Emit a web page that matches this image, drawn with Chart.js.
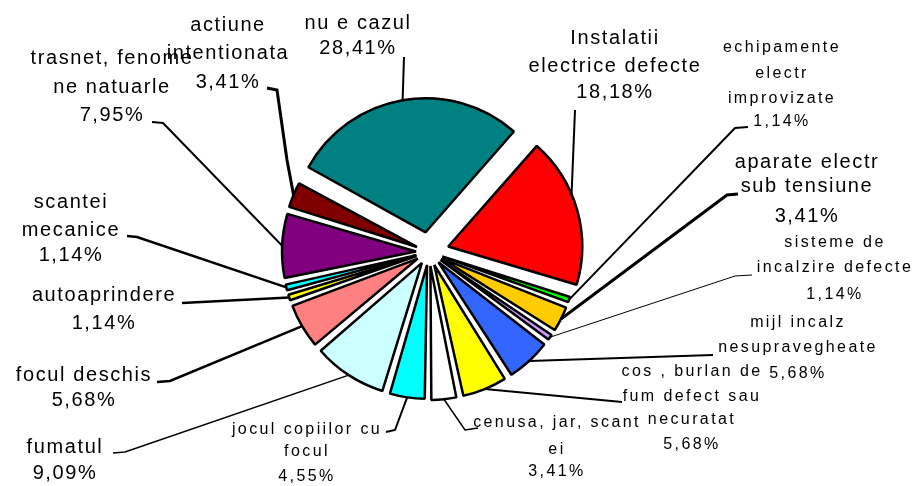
<!DOCTYPE html>
<html>
<head>
<meta charset="utf-8">
<script src="https://cdn.jsdelivr.net/npm/chart.js@4.4.1/dist/chart.umd.min.js"></script>
<style>
  body { margin: 0; background: #fff; }
  #wrap { width: 912px; height: 486px; position: relative; }
</style>
</head>
<body>
<div id="wrap"><canvas id="myChart"></canvas></div>
<script>
// categories, clockwise from the teal slice
var categories = [
  ['nu e cazul'],
  ['Instalatii', 'electrice defecte'],
  ['echipamente', 'electr', 'improvizate'],
  ['aparate electr', 'sub tensiune'],
  ['sisteme de', 'incalzire defecte'],
  ['mijl incalz', 'nesupravegheate'],
  ['cos , burlan de', 'fum defect sau', 'necuratat'],
  ['cenusa, jar, scant', 'ei'],
  ['jocul copiilor cu', 'focul'],
  ['fumatul'],
  ['focul deschis'],
  ['autoaprindere'],
  ['scantei', 'mecanice'],
  ['trasnet, fenome', 'ne natuarle'],
  ['actiune', 'intentionata']
];
var percents = [28.41, 18.18, 1.14, 3.41, 1.14, 5.68, 5.68, 3.41, 4.55, 9.09, 5.68, 1.14, 1.14, 7.95, 3.41];

var sliceColors = ['#008080', '#ff0000', '#00ff00', '#ffcc00', '#cc99ff', '#3366ff', '#ffff00',
  '#ffffff', '#00ffff', '#ccffff', '#ff8080', '#ffff00', '#00ffff', '#800080', '#800000'];
// chart.js divides offset by 4
var explode = [80, 80, 56, 56, 56, 56, 56, 56, 52, 52, 52, 52, 52, 52, 52];
var pieRadius = 134;

// where each label sits and how its leader line runs (label side points)
var labelLayout = [
  {x: 358, y: [23, 48], big: true, lw: 2, pts: [[404, 57]]},
  {x: 615, y: [38, 66, 92], big: true, lw: 2, ang: 67, pts: [[575, 110]]},
  {x: 782, y: [48, 74, 99, 122], big: false, lw: 2, pts: [[735, 128], [748, 127]]},
  {x: 807, y: [162, 186, 216], big: true, lw: 3, pts: [[727, 195], [738, 194]]},
  {x: 835, y: [243, 268, 295], big: false, lw: 1, pts: [[735, 276], [752, 275]]},
  {x: 798, y: [323, 348, 374], big: false, lw: 2, pts: [[713, 355]]},
  {x: 692, y: [372, 397, 420, 445], big: false, lw: 2, pts: [[622, 402]]},
  {x: 557, y: [423, 450, 472], big: false, lw: 1.5, pts: [[465, 430], [478, 428]]},
  {x: 307, y: [430, 452, 477], big: false, lw: 2, pts: [[395, 430], [386, 432]]},
  {x: 65, y: [447, 473], big: true, lw: 1.5, pts: [[125, 452], [113, 453]]},
  {x: 84, y: [375, 400], big: true, lw: 2.5, pts: [[170, 381], [157, 382]]},
  {x: 104, y: [295, 323], big: true, lw: 2.5, pts: [[182, 303]]},
  {x: 71, y: [202, 230, 255], big: true, lw: 2.5, pts: [[137, 237], [127, 236]]},
  {x: 112, y: [58, 87, 115], big: true, lw: 2, pts: [[163, 123], [152, 122]]},
  {x: 228, y: [25, 53, 82], big: true, lw: 3, pts: [[287, 160], [277, 90], [267, 88]]}
];

function fix(arc) {
  var circ = arc.endAngle - arc.startAngle;
  return 1 - Math.sin(Math.min(Math.PI, circ));
}

var leaderPlugin = {
  id: 'leaders',
  beforeDatasetsDraw: function(chart) {
    // exploded thin slices get a bigger radius in chart.js, pull them back
    var meta = chart.getDatasetMeta(0);
    meta.data.forEach(function(arc, i) {
      arc.outerRadius = pieRadius - explode[i] / 4 * fix(arc);
    });
  },
  afterDraw: function(chart) {
    var ctx = chart.ctx;
    var meta = chart.getDatasetMeta(0);
    ctx.save();
    ctx.strokeStyle = '#000';
    ctx.lineJoin = 'miter';
    meta.data.forEach(function(arc, i) {
      var lay = labelLayout[i];
      var off = explode[i] / 4;
      var mid = (arc.startAngle + arc.endAngle) / 2;
      var r = arc.outerRadius + off * fix(arc);
      var a = lay.ang !== undefined ? (lay.ang - 90) * Math.PI / 180 : mid;
      var cx = arc.x + Math.cos(mid) * off;
      var cy = arc.y + Math.sin(mid) * off;
      ctx.lineWidth = lay.lw;
      ctx.beginPath();
      ctx.moveTo(cx + Math.cos(a) * r, cy + Math.sin(a) * r);
      lay.pts.forEach(function(p) { ctx.lineTo(p[0], p[1]); });
      ctx.stroke();
    });
    ctx.fillStyle = '#000';
    ctx.textAlign = 'center';
    ctx.textBaseline = 'middle';
    categories.forEach(function(lines, i) {
      var lay = labelLayout[i];
      if (lay.big) {
        ctx.font = '20px "Liberation Sans", Arial, sans-serif';
        ctx.letterSpacing = '1.6px';
      } else {
        ctx.font = '16px "Liberation Sans", Arial, sans-serif';
        ctx.letterSpacing = '2.4px';
      }
      var all = lines.concat([percents[i].toFixed(2).replace('.', ',') + '%']);
      all.forEach(function(t, k) {
        ctx.fillText(t, lay.x, lay.y[k]);
      });
    });
    ctx.restore();
  }
};

var ctx = document.getElementById('myChart').getContext('2d');
var myChart = new Chart(ctx, {
  type: 'pie',
  data: {
    labels: categories.map(function(c) { return c.join(' '); }),
    datasets: [{
      data: percents,
      backgroundColor: sliceColors,
      borderColor: '#000',
      borderWidth: 2.5,
      offset: explode,
      radius: pieRadius
    }]
  },
  options: {
    responsive: true,
    maintainAspectRatio: false,
    animation: false,
    rotation: -61,
    layout: { padding: { left: 0, right: 54, top: 18, bottom: 0 } },
    plugins: {
      legend: { display: false },
      tooltip: { enabled: false }
    }
  },
  plugins: [leaderPlugin]
});
</script>
</body>
</html>
